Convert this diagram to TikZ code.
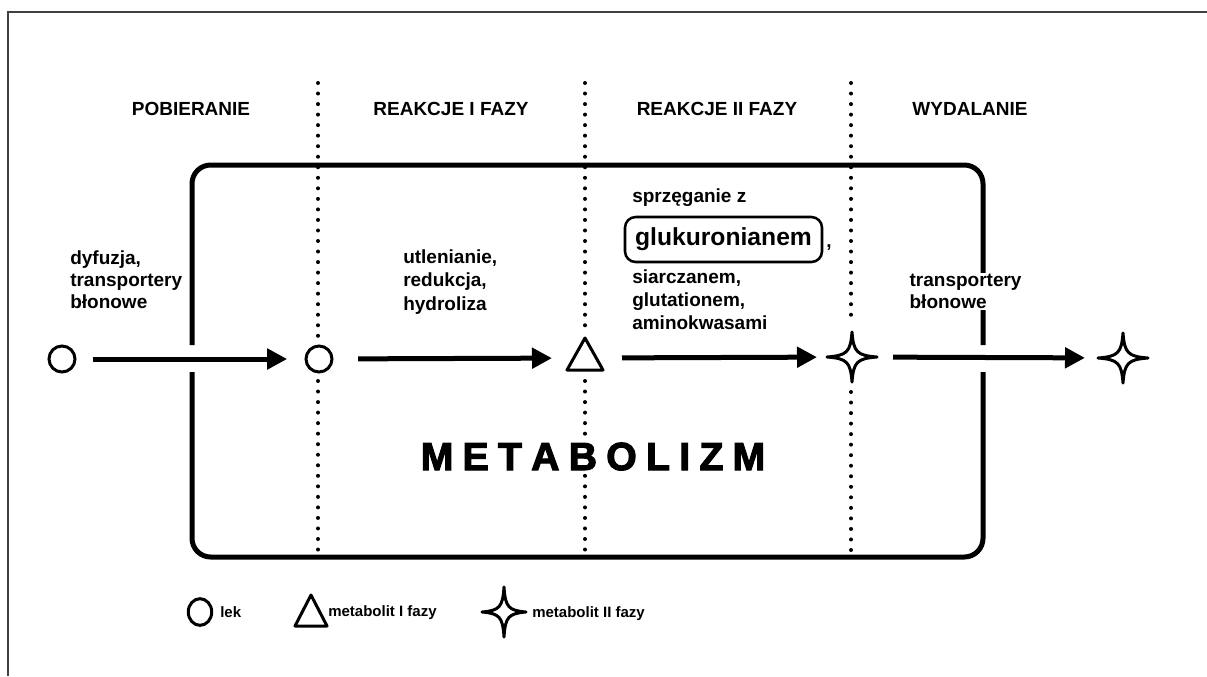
\documentclass[tikz,border=0pt]{standalone}
\usepackage{fontspec}
\setmainfont{Liberation Sans}
\newfontfamily\heavyfont{Liberation Sans}[BoldFeatures={FakeBold=3}]
\usetikzlibrary{arrows.meta}

\tikzset{
  frame/.style={draw=black!75, line width=1.1pt},
  boxline/.style={line width=3.75pt, rounded corners=14pt},
  sepline/.style={line width=3pt, line cap=round, dash pattern=on 0pt off 7.9pt},
  flow/.style={line width=3.75pt, -{Triangle[length=15pt,width=15pt]}},
  shapeline/.style={line width=2.25pt, line join=round},
  head/.style={font=\fontsize{14.25}{17}\selectfont\bfseries, anchor=base, inner sep=0pt},
  body/.style={font=\fontsize{14.25}{17}\selectfont\bfseries, align=left, anchor=base west, inner sep=0pt},
  legendtext/.style={font=\fontsize{11.25}{13}\selectfont\bfseries, anchor=base west, inner sep=0pt},
  lek/.style={circle, draw, line width=2.25pt, minimum size=19.5pt, inner sep=0pt},
  pics/sparkle/.style n args={2}{code={
    \draw[shapeline] (0,-#2) .. controls ({0.06*#1},{-0.2*#2}) and ({0.2*#1},{-0.06*#2}) .. (#1,0)
      .. controls ({0.2*#1},{0.06*#2}) and ({0.06*#1},{0.2*#2}) .. (0,#2)
      .. controls ({-0.06*#1},{0.2*#2}) and ({-0.2*#1},{0.06*#2}) .. (-#1,0)
      .. controls ({-0.2*#1},{-0.06*#2}) and ({-0.06*#1},{-0.2*#2}) .. (0,-#2) -- cycle;
  }},
}

\begin{document}
\begin{tikzpicture}[x=0.75pt,y=-0.75pt]
\useasboundingbox (0,0) rectangle (1207,676);

% outer frame (top and left edges)
\draw[frame] (1207,12) -- (8,12) -- (8,676);

% headers
\node[head] (h1) at (191,115) {POBIERANIE};
\node[head] (h2) at (451,115) {REAKCJE I FAZY};
\node[head] (h3) at (717,115) {REAKCJE II FAZY};
\node[head] (h4) at (970,115) {WYDALANIE};

% separators
\draw[sepline] (318,83) -- (318,338);
\draw[sepline] (318,381) -- (318,555);
\draw[sepline] (585,83) -- (585,332);
\draw[sepline] (585,381) -- (585,555);
\draw[sepline] (851,83) -- (851,324);
\draw[sepline] (851,392) -- (851,555);

% metabolism box
\draw[boxline] (192,345) -- (192,165) -- (983,165) -- (983,345);
\draw[boxline] (192,372) -- (192,557) -- (983,557) -- (983,372);

% substances
\node[lek] (c0) at (62,359) {};
\node[lek] (c1) at (319,359) {};
\coordinate (t1) at (585,358);
\coordinate (s1) at (852,357);
\coordinate (s2) at (1123,358);
\draw[shapeline] (t1) ++(-18,12) -- ++(36,0) -- ++(-18,-32) -- cycle;
\pic at (s1) {sparkle={25}{25}};
\pic at (s2) {sparkle={25}{25}};

% flow arrows
\draw[flow, shorten <=12pt, shorten >=13pt] (c0) -- (c1);
\draw[flow, shorten <=18.4pt, shorten >=24.75pt] (c1) -- (t1);
\draw[flow, shorten <=27.75pt, shorten >=26.25pt] (t1) -- (s1);
\draw[flow, shorten <=30.75pt, shorten >=28.5pt] (s1) -- (s2);

% labels (anchor = baseline of last line)
\node[body, font=\fontsize{14.25}{16.2}\selectfont\bfseries] (l1) at (70,308) {dyfuzja,\\transportery\\błonowe};
\node[body, font=\fontsize{14.25}{17.6}\selectfont\bfseries] (l2) at (403,310) {utlenianie,\\redukcja,\\hydroliza};
\node[body] (l3a) at (632,202) {sprzęganie z};
\node[draw, line width=1.9pt, rounded corners=8pt, minimum width=147.75pt, minimum height=33.75pt, inner sep=0pt,
      font=\fontsize{18.5}{20}\selectfont\bfseries] (glu) at (723.5,239.5) {glukuronianem};
\node[body] (comma) at (826,247) {,};
\node[body, font=\fontsize{14.25}{17.2}\selectfont\bfseries] (l3b) at (632,329) {siarczanem,\\glutationem,\\aminokwasami};
\node[body, fill=white, inner sep=1pt, font=\fontsize{14.25}{16.2}\selectfont\bfseries] (l4) at (908,308) {transportery\\błonowe};

% title
\node[anchor=base, fill=white, inner sep=1pt, font=\heavyfont\bfseries\fontsize{29.3}{30}\selectfont] (title) at (593,470)
  {M\kern7pt E\kern7pt T\kern7pt A\kern7pt B\kern7pt O\kern7pt L\kern7pt I\kern7pt Z\kern7pt M};

% legend
\draw[shapeline] (200,612) ellipse [x radius=8.8pt, y radius=10pt];
\node[legendtext] (lg1) at (220,617) {lek};
\draw[shapeline] (295,626) -- (327,626) -- (311,595) -- cycle;
\node[legendtext] (lg2) at (328,616) {metabolit I fazy};
\pic at (504,612) {sparkle={22}{25}};
\node[legendtext] (lg3) at (532,617) {metabolit II fazy};
\end{tikzpicture}
\end{document}
